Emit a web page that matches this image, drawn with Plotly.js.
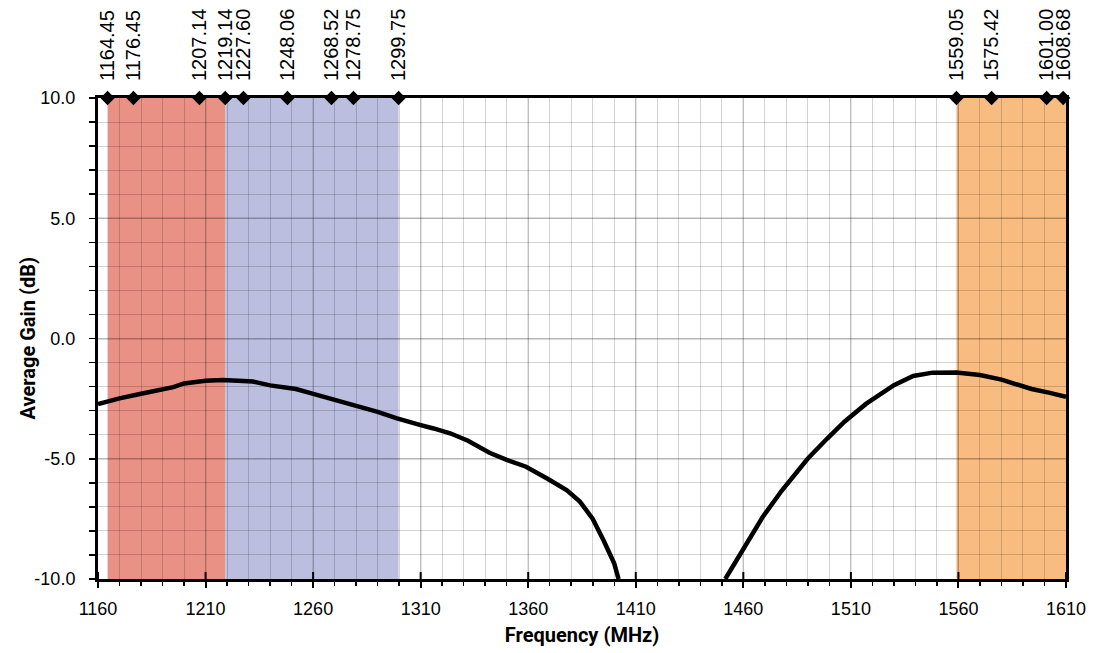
<!DOCTYPE html>
<html>
<head>
<meta charset="utf-8">
<script src="https://cdn.plot.ly/plotly-3.0.1.min.js"></script>
<style>html,body{margin:0;padding:0;background:#fff;}#chart{width:1093px;height:653px;}</style>
</head>
<body>
<div id="chart"></div>
<script>
// Measured average gain curve (MHz, dB); null = below the -10 dB floor
const freqMHz = [1160, 1170, 1180, 1187, 1195, 1200, 1205, 1210, 1218, 1225, 1232, 1240, 1246, 1252, 1258, 1265, 1272, 1280, 1290, 1299, 1305, 1310, 1316, 1324, 1332, 1342, 1350, 1359, 1369, 1378, 1384, 1390, 1395, 1400, 1402,
  1426,
  1451.6, 1460, 1469, 1478, 1490, 1499, 1507, 1517, 1530, 1539, 1548, 1559, 1570, 1580, 1590, 1594, 1602, 1610];
const gainDb = [-2.73, -2.49, -2.30, -2.19, -2.02, -1.87, -1.80, -1.76, -1.73, -1.75, -1.79, -1.95, -2.03, -2.10, -2.25, -2.42, -2.60, -2.80, -3.05, -3.32, -3.45, -3.60, -3.74, -3.95, -4.25, -4.75, -5.05, -5.33, -5.83, -6.31, -6.78, -7.50, -8.39, -9.36, -10.0,
  null,
  -10.0, -8.73, -7.42, -6.31, -4.99, -4.16, -3.46, -2.72, -1.94, -1.56, -1.42, -1.41, -1.52, -1.71, -1.96, -2.10, -2.25, -2.42];

// GNSS band edge frequencies marked on the top axis
const bandEdges = [1164.45, 1176.45, 1207.14, 1219.14, 1227.60, 1248.06, 1268.52, 1278.75, 1299.75, 1559.05, 1575.42, 1601.00, 1608.68];
const bandEdgeLabels = bandEdges.map(v => v.toFixed(2));
const bandEdgeLevel = bandEdges.map(() => 10);

// Shaded bands
const bandStart = [1164.45, 1219.14, 1559.05];
const bandEnd = [1219.14, 1299.75, 1610];
const bandColors = ['#EA9185', '#BBBEDF', '#F9BC80'];

// Axis ticks
const xTickVals = [1160, 1210, 1260, 1310, 1360, 1410, 1460, 1510, 1560, 1610];
const yTickVals = [-10, -5, 0, 5, 10];
const yTickLabels = ['-10.0', '-5.0', '0.0', '5.0', '10.0'];

const xRange = [1160, 1610];
const yRange = [-10, 10];

const tickFont = {family: 'Liberation Sans, Arial, sans-serif', size: 18, color: '#000'};
const titleFont = {family: 'Roboto, Liberation Sans, sans-serif', size: 20, color: '#000', weight: 'bold'};

const traces = [
  {
    x: freqMHz, y: gainDb, type: 'scatter', mode: 'lines',
    line: {color: '#000', width: 4.5}, connectgaps: false,
    xaxis: 'x', yaxis: 'y', hoverinfo: 'x+y', showlegend: false
  },
  {
    x: bandEdges, y: bandEdgeLevel, type: 'scatter', mode: 'markers',
    marker: {symbol: 'diamond', color: '#000', size: 11},
    xaxis: 'x2', yaxis: 'y', cliponaxis: false, showlegend: false
  }
];

const bandShapes = bandStart.map((s, i) => ({
  type: 'rect', xref: 'x', yref: 'paper', x0: s, x1: bandEnd[i], y0: 0, y1: 1,
  fillcolor: bandColors[i], line: {width: 0}, layer: 'below'
}));
// inward half of the major x ticks, so they cross the bottom axis line
const innerTicks = xTickVals.map(v => ({
  type: 'line', xref: 'x', yref: 'y', ysizemode: 'pixel', yanchor: yRange[0],
  x0: v, x1: v, y0: 0, y1: 7, line: {color: '#000', width: 2}, layer: 'above'
}));

const layout = {
  width: 1093, height: 653,
  margin: {l: 98, r: 27, t: 98, b: 74},
  paper_bgcolor: '#fff', plot_bgcolor: '#fff',
  showlegend: false,
  shapes: bandShapes.concat(innerTicks),
  annotations: [{
    text: 'Average Gain (dB)', xref: 'paper', yref: 'paper', x: 0, y: 0.5,
    xanchor: 'center', yanchor: 'middle', xshift: -71, textangle: -90,
    showarrow: false, font: titleFont
  }],
  xaxis: {
    range: xRange, tickmode: 'array', tickvals: xTickVals,
    showgrid: true, gridcolor: 'rgba(0,0,0,0.1)', gridwidth: 2,
    ticks: 'outside', ticklen: 6, tickwidth: 2, tickcolor: '#000',
    showline: true, linecolor: '#000', linewidth: 3, mirror: true,
    zeroline: false, tickfont: tickFont, ticklabelstandoff: 5,
    minor: {tick0: 1160, dtick: 10, showgrid: true, gridcolor: 'rgba(0,0,0,0.17)', gridwidth: 1,
      ticks: 'outside', ticklen: 4, tickwidth: 1.5, tickcolor: '#000'},
    title: {text: 'Frequency (MHz)', font: titleFont, standoff: 11}
  },
  xaxis2: {
    range: xRange, overlaying: 'x', side: 'top', anchor: 'y',
    tickmode: 'array', tickvals: bandEdges, ticktext: bandEdgeLabels,
    tickangle: -90, ticks: 'outside', ticklen: 12, tickcolor: 'rgba(0,0,0,0)',
    showgrid: false, showline: false, zeroline: false,
    tickfont: {family: 'Liberation Sans, Arial, sans-serif', size: 20, color: '#000'}
  },
  yaxis: {
    range: yRange, tickmode: 'array', tickvals: yTickVals, ticktext: yTickLabels,
    showgrid: true, gridcolor: 'rgba(0,0,0,0.14)', gridwidth: 2,
    ticks: 'outside', ticklen: 6, tickwidth: 1.5, tickcolor: '#000',
    showline: true, linecolor: '#000', linewidth: 3, mirror: true,
    zeroline: false, tickfont: tickFont, ticklabelstandoff: 10,
    minor: {tick0: -10, dtick: 1, showgrid: true, gridcolor: 'rgba(0,0,0,0.17)', gridwidth: 1,
      ticks: 'outside', ticklen: 6, tickwidth: 1.5, tickcolor: '#000'}
  }
};

Plotly.newPlot('chart', traces, layout, {displayModeBar: false, staticPlot: true});
</script>
</body>
</html>
